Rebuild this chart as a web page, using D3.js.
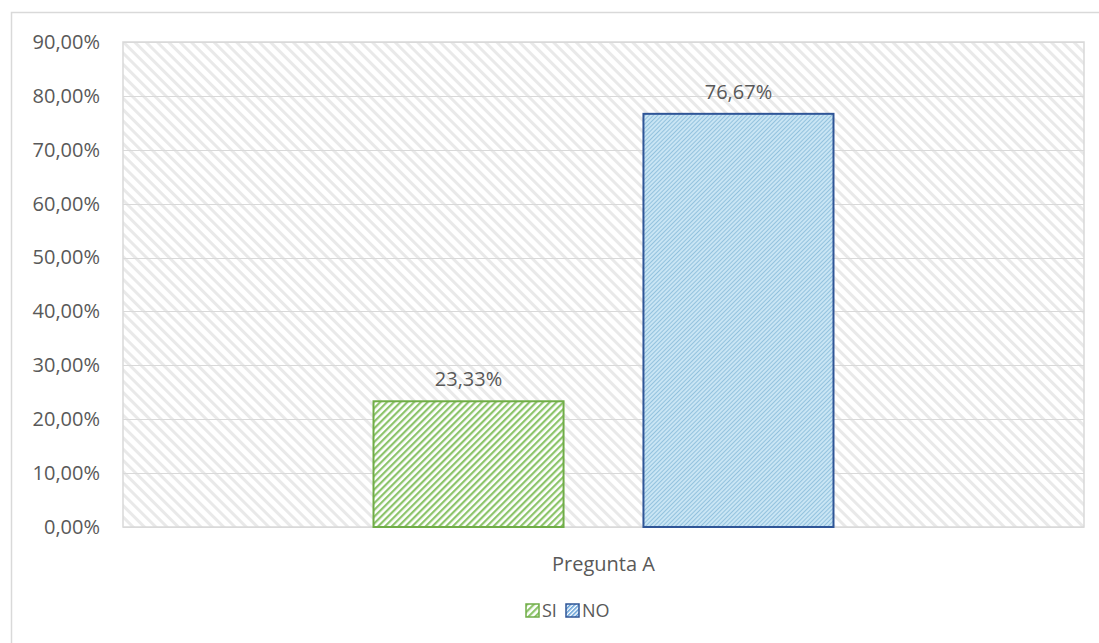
<!DOCTYPE html>
<html>
<head>
<meta charset="utf-8">
<style>
  body { margin: 0; background: #fff; }
  svg { display: block; }
  text { font-family: "Open Sans", "Liberation Sans", sans-serif; fill: #595959; }
  .tick line { display: none; }
  .domain { display: none; }
</style>
</head>
<body>
<svg width="1099" height="643"></svg>
<script src="https://cdn.jsdelivr.net/npm/d3@7"></script>
<script>
// data
var categories = ["Pregunta A"];
var series = ["SI", "NO"];
var values = [23.33, 76.67];
var yTicks = [0, 10, 20, 30, 40, 50, 60, 70, 80, 90];

var svg = d3.select("svg");
var plot = {left: 123, right: 1084, top: 42, bottom: 527};

var defs = svg.append("defs");

// background hatch (light grey, \ direction)
var bg = defs.append("pattern")
    .attr("id", "bgHatch")
    .attr("patternUnits", "userSpaceOnUse")
    .attr("width", 8).attr("height", 8)
    .attr("patternTransform", "rotate(-45)");
bg.append("rect").attr("width", 8).attr("height", 8).attr("fill", "#fff");
bg.append("rect").attr("width", 3).attr("height", 8).attr("fill", "#e9e9e9");

// green bar hatch (/ direction)
var gp = defs.append("pattern")
    .attr("id", "greenHatch")
    .attr("patternUnits", "userSpaceOnUse")
    .attr("width", 4.8).attr("height", 4.8)
    .attr("patternTransform", "rotate(45)");
gp.append("rect").attr("width", 4.8).attr("height", 4.8).attr("fill", "#fff");
gp.append("rect").attr("width", 2.2).attr("height", 4.8).attr("fill", "#8cc46a");

// blue bar hatch (fine / direction)
var bp = defs.append("pattern")
    .attr("id", "blueHatch")
    .attr("patternUnits", "userSpaceOnUse")
    .attr("width", 3).attr("height", 3)
    .attr("patternTransform", "rotate(45)");
bp.append("rect").attr("width", 3).attr("height", 3).attr("fill", "#c9e5f4");
bp.append("rect").attr("width", 1).attr("height", 3).attr("fill", "#93c2de");

// legend hatch
var lp = defs.append("pattern")
    .attr("id", "legBlue")
    .attr("patternUnits", "userSpaceOnUse")
    .attr("width", 3).attr("height", 3)
    .attr("patternTransform", "rotate(45)");
lp.append("rect").attr("width", 3).attr("height", 3).attr("fill", "#fff");
lp.append("rect").attr("width", 1.5).attr("height", 3).attr("fill", "#5b9bd5");

var colors = {SI: {fill: "url(#greenHatch)", stroke: "#70ad47"},
              NO: {fill: "url(#blueHatch)", stroke: "#2f5597"}};

// outer chart frame
svg.append("rect")
    .attr("x", 11.5).attr("y", 12.5)
    .attr("width", 1100).attr("height", 700)
    .attr("fill", "#fff").attr("stroke", "#d9d9d9").attr("stroke-width", 1.5);

// plot background
svg.append("rect")
    .attr("x", plot.left).attr("y", plot.top)
    .attr("width", plot.right - plot.left).attr("height", plot.bottom - plot.top)
    .attr("fill", "url(#bgHatch)")
    .attr("stroke", "#d9d9d9").attr("stroke-width", 1.5);

var y = d3.scaleLinear().domain([0, 90]).range([plot.bottom, plot.top]);
var x0 = d3.scaleBand().domain(categories).range([plot.left, plot.right])
    .paddingInner(0).paddingOuter(0.5446);
var x1 = d3.scaleBand().domain(series).range([0, x0.bandwidth()])
    .paddingInner(0.296).paddingOuter(0);

// gridlines
svg.append("g").selectAll("line")
    .data(yTicks)
    .enter().append("line")
    .attr("x1", plot.left).attr("x2", plot.right)
    .attr("y1", function(d) { return Math.round(y(d)) + 0.5; })
    .attr("y2", function(d) { return Math.round(y(d)) + 0.5; })
    .attr("stroke", "#d9d9d9").attr("stroke-width", 1.2);

var fmt = function(d) { return d3.format(".2f")(d).replace(".", ",") + "%"; };

// y axis
var yAxis = svg.append("g")
    .attr("transform", "translate(" + (plot.left - 23) + ",0)")
    .call(d3.axisLeft(y).tickValues(yTicks).tickSize(0).tickPadding(0).tickFormat(fmt));
yAxis.selectAll("text").style("font-size", "20px").attr("fill", "#595959");

// x axis
var xAxis = svg.append("g")
    .attr("transform", "translate(0," + plot.bottom + ")")
    .call(d3.axisBottom(x0).tickSize(0).tickPadding(30));
xAxis.selectAll("text").style("font-size", "20px").attr("fill", "#595959");

// bars
var g = svg.append("g").attr("transform", "translate(" + x0(categories[0]) + ",0)");
g.selectAll("rect")
    .data(series)
    .enter().append("rect")
    .attr("x", function(d) { return x1(d); })
    .attr("y", function(d, i) { return y(values[i]); })
    .attr("width", x1.bandwidth())
    .attr("height", function(d, i) { return y(0) - y(values[i]); })
    .attr("fill", function(d) { return colors[d].fill; })
    .attr("stroke", function(d) { return colors[d].stroke; })
    .attr("stroke-width", 2);

g.selectAll(".lbl")
    .data(series)
    .enter().append("text")
    .attr("class", "lbl")
    .attr("x", function(d) { return x1(d) + x1.bandwidth() / 2; })
    .attr("y", function(d, i) { return y(values[i]) - 15; })
    .attr("text-anchor", "middle")
    .style("font-size", "20px")
    .text(function(d, i) { return fmt(values[i]); });

// legend
var legX = [526, 566];
var leg = svg.append("g").selectAll("g")
    .data(series)
    .enter().append("g")
    .attr("transform", function(d, i) { return "translate(" + legX[i] + ",604)"; });
leg.append("rect")
    .attr("width", 13).attr("height", 13)
    .attr("fill", function(d) { return d == "SI" ? "url(#greenHatch)" : "url(#legBlue)"; })
    .attr("stroke", function(d) { return colors[d].stroke; })
    .attr("stroke-width", 1.5);
leg.append("text")
    .attr("x", 16).attr("y", 13)
    .style("font-size", "18px")
    .text(function(d) { return d; });
</script>
</body>
</html>
